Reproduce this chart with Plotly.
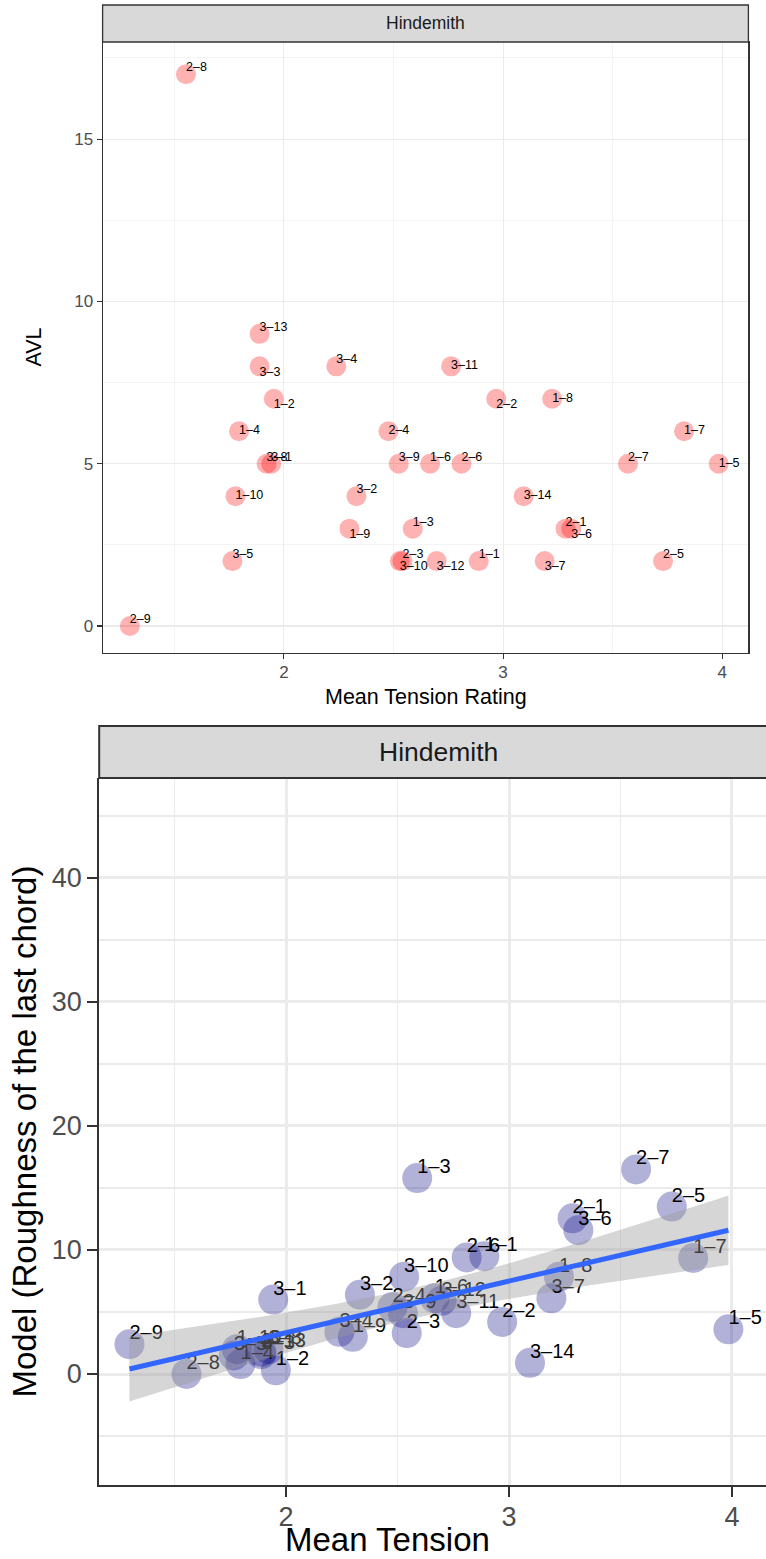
import numpy as np
import plotly.graph_objects as go

# ---------------- data ----------------
pieces = ["1-1", "1-2", "1-3", "1-4", "1-5", "1-6", "1-7", "1-8", "1-9", "1-10",
          "2-1", "2-2", "2-3", "2-4", "2-5", "2-6", "2-7", "2-8", "2-9",
          "3-1", "3-2", "3-3", "3-4", "3-5", "3-6", "3-7", "3-8", "3-9", "3-10",
          "3-11", "3-12", "3-13", "3-14"]

mean_tension = [2.889, 1.954, 2.588, 1.795, 3.984, 2.667, 3.826, 3.224, 2.299, 1.779,
                3.285, 2.969, 2.541, 2.477, 3.730, 2.810, 3.570, 1.553, 1.297,
                1.942, 2.331, 1.889, 2.239, 1.765, 3.311, 3.190, 1.921, 2.524, 2.529,
                2.763, 2.697, 1.889, 3.094]

avl = [2, 7, 3, 6, 5, 5, 6, 7, 3, 4,
       3, 7, 2, 6, 2, 5, 5, 17, 0,
       5, 4, 8, 8, 2, 3, 2, 5, 5, 2,
       8, 2, 9, 4]

roughness = [9.5, 0.3, 15.8, 0.8, 3.6, 6.1, 9.35, 7.85, 3.0, 2.0,
             12.55, 4.2, 3.3, 5.4, 13.5, 9.4, 16.5, 0.0, 2.4,
             6.0, 6.4, 1.6, 3.4, 1.5, 11.6, 6.1, 2.0, 4.9, 7.85,
             4.9, 5.9, 1.8, 0.9]

top_x_ticks = [2, 3, 4]
top_y_ticks = [0, 5, 10, 15]
bot_x_ticks = [2, 3, 4]
bot_y_ticks = [0, 10, 20, 30, 40]
facet = "Hindemith"

# ---------------- styles ----------------
top_label_pos = {
    "2-8": "top right", "2-9": "top right", "3-13": "top right", "3-3": "bottom right",
    "1-2": "bottom right", "1-4": "middle right", "3-8": "top right", "3-1": "top right",
    "1-10": "middle right", "3-5": "top right", "3-4": "top right", "3-2": "top right",
    "1-9": "bottom right", "2-4": "middle right", "3-9": "top right", "2-3": "top right",
    "3-10": "bottom right", "1-3": "top right", "1-6": "top right", "3-12": "bottom right",
    "3-11": "middle right", "2-6": "top right", "1-1": "top right", "2-2": "bottom right",
    "3-14": "middle right", "1-8": "middle right", "3-7": "bottom right", "2-1": "top right",
    "3-6": "bottom right", "2-7": "top right", "2-5": "top right", "1-7": "middle right",
    "1-5": "middle right",
}
FONT = "Liberation Sans, Arial, Helvetica, sans-serif"
W, H = 766, 1559
GRID = "#EBEBEB"
DARK = "#333333"
TICKTXT = "#4D4D4D"

def px_x(p):
    return p / W

def px_y(p):
    return 1 - p / H

disp = [p.replace("-", "\u2013") for p in pieces]

fig = go.Figure()

# ---------- upper panel ----------
fig.add_trace(go.Scatter(
    x=mean_tension, y=avl, mode="markers", xaxis="x", yaxis="y",
    marker=dict(size=20, color="rgba(255,0,0,0.3)", line=dict(width=0)),
    hoverinfo="skip"))
fig.add_trace(go.Scatter(
    x=mean_tension, y=avl, mode="text", xaxis="x", yaxis="y", cliponaxis=False,
    text=disp, textposition=[top_label_pos[p] for p in pieces],
    textfont=dict(family=FONT, size=12.5, color="black"), hoverinfo="skip"))

# ---------- lower panel ----------
xa = np.array(mean_tension)
ya = np.array(roughness)
n = len(xa)
slope, intercept = np.polyfit(xa, ya, 1)
resid = ya - (slope * xa + intercept)
s = np.sqrt(np.sum(resid ** 2) / (n - 2))
sxx = np.sum((xa - xa.mean()) ** 2)
xs = np.linspace(xa.min(), xa.max(), 80)
fit = slope * xs + intercept
se = s * np.sqrt(1.0 / n + (xs - xa.mean()) ** 2 / sxx)
tq = 2.0395  # t quantile, 95 %, df = 31
upper = fit + tq * se
lower = fit - tq * se

fig.add_trace(go.Scatter(
    x=mean_tension, y=roughness, mode="markers", xaxis="x2", yaxis="y2",
    marker=dict(size=30, color="rgba(0,0,128,0.3)", line=dict(width=0)),
    hoverinfo="skip"))
fig.add_trace(go.Scatter(
    x=mean_tension, y=roughness, mode="text", xaxis="x2", yaxis="y2", cliponaxis=False,
    text=disp, textposition="top right",
    textfont=dict(family=FONT, size=20, color="black"), hoverinfo="skip"))
fig.add_trace(go.Scatter(
    x=np.concatenate([xs, xs[::-1]]), y=np.concatenate([upper, lower[::-1]]),
    mode="lines", fill="toself", fillcolor="rgba(153,153,153,0.4)",
    line=dict(width=0), xaxis="x2", yaxis="y2", hoverinfo="skip"))
fig.add_trace(go.Scatter(
    x=xs, y=fit, mode="lines", line=dict(color="#3366FF", width=5),
    xaxis="x2", yaxis="y2", hoverinfo="skip"))

# ---------- axes ----------
def axis(domain, rng, ticks, minor, ticklen, tickw, linew, fsize, gw, mirror, anchor, standoff=0):
    d = dict(domain=domain, range=rng, tickvals=ticks, ticks="outside", ticklen=ticklen,
             tickwidth=tickw, tickcolor=DARK, showline=True, linecolor=DARK, linewidth=linew,
             mirror=mirror, zeroline=False, showgrid=True, gridcolor=GRID, gridwidth=gw,
             tickfont=dict(family=FONT, size=fsize, color=TICKTXT), anchor=anchor,
             ticklabelstandoff=standoff,
             minor=dict(tickvals=minor, showgrid=True, gridcolor=GRID, gridwidth=gw / 2, ticks=""),
             fixedrange=True)
    return d

top_xd = [px_x(102.6), px_x(748.4)]
top_yd = [px_y(653), px_y(42)]
bot_xd = [px_x(99.2), 1.0]
bot_yd = [px_y(1485), px_y(778)]

fig.update_layout(
    width=W, height=H, margin=dict(l=0, r=0, t=0, b=0),
    paper_bgcolor="white", plot_bgcolor="white", showlegend=False,
    xaxis=axis(top_xd, [1.1725, 4.1196], top_x_ticks, [1.5, 2.5, 3.5], 5, 1.1, 1.1, 17, 1.1, True, "y", -2),
    yaxis=axis(top_yd, [-0.83, 17.99], top_y_ticks, [2.5, 7.5, 12.5, 17.5], 5, 1.1, 1.1, 17, 1.1, True, "x"),
    xaxis2=axis(bot_xd, [1.1614, 4.1527], bot_x_ticks, [1.5, 2.5, 3.5], 10, 2.5, 2, 27, 3, False, "y2", -3),
    yaxis2=axis(bot_yd, [-8.95, 48.06], bot_y_ticks, [-5, 5, 15, 25, 35, 45], 10, 2.5, 2, 27, 3, False, "x2"),
)

# ---------- strips ----------
fig.add_shape(type="rect", xref="paper", yref="paper",
              x0=top_xd[0], x1=top_xd[1], y0=top_yd[1], y1=px_y(5),
              fillcolor="#D9D9D9", line=dict(color=DARK, width=1.3))
fig.add_shape(type="rect", xref="paper", yref="paper",
              x0=bot_xd[0], x1=1.02, y0=bot_yd[1], y1=px_y(726),
              fillcolor="#D9D9D9", line=dict(color=DARK, width=2))

ann = [
    dict(text=facet, x=px_x(425.5), y=px_y(23.5), font=dict(size=17.5, color="#1A1A1A")),
    dict(text=facet, x=px_x(438), y=px_y(752), font=dict(size=26.5, color="#1A1A1A")),
    dict(text="Mean Tension Rating", x=px_x(425.5), y=px_y(697), font=dict(size=21.5, color="black")),
    dict(text="AVL", x=px_x(34), y=px_y(347.5), textangle=-90, font=dict(size=21.5, color="black")),
    dict(text="Mean Tension", x=px_x(387), y=px_y(1539), font=dict(size=33, color="black")),
    dict(text="Model (Roughness of the last chord)", x=px_x(24), y=px_y(1131.5), textangle=-90,
         font=dict(size=33, color="black")),
]
for a in ann:
    a.update(xref="paper", yref="paper", showarrow=False, xanchor="center", yanchor="middle")
    a["font"]["family"] = FONT
    fig.add_annotation(**a)

fig.write_html("out.html",
               config={"displayModeBar": False, "staticPlot": True},
               post_script="document.body.style.margin='0px';"
                           "document.body.style.overflow='hidden';")
